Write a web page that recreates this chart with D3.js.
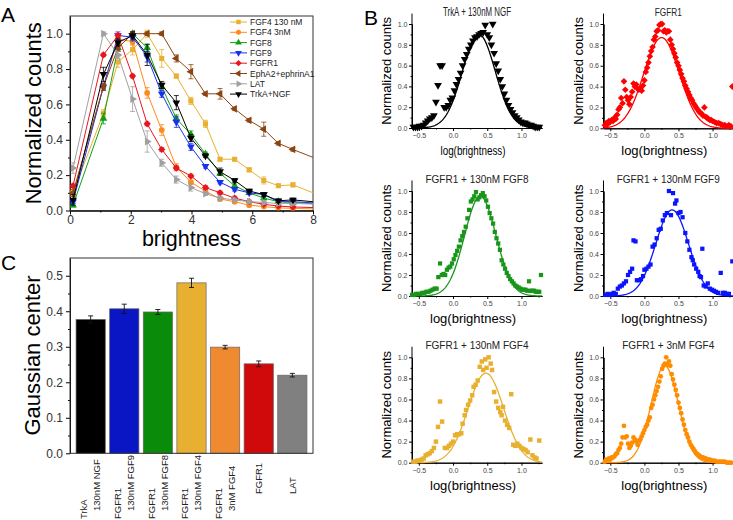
<!DOCTYPE html>
<html>
<head>
<meta charset="utf-8">
<script src="https://cdn.jsdelivr.net/npm/d3@7"></script>
<style>
  body { margin: 0; background: #fff; }
  text { font-family: "Liberation Sans", Arial, sans-serif; }
</style>
</head>
<body>
<svg id="fig" width="733" height="520"></svg>
<script>
// ---------------- data: panel A (brightness histograms) ----------------
const brightness = [0.1, 1.1, 1.58, 2.06, 2.54, 3.02, 3.5, 3.98, 4.46, 4.94, 5.42, 5.9, 6.38, 6.86, 7.34, 8.3];
const fgf4High = [0.1, 0.55, 0.84, 0.91, 1.0, 0.86, 0.76, 0.62, 0.49, 0.29, 0.29, 0.23, 0.17, 0.14, 0.145, 0.08];
const fgf4Low  = [0.1, 0.7, 0.97, 0.955, 0.665, 0.455, 0.245, 0.16, 0.11, 0.065, 0.05, 0.03, 0.022, 0.015, 0.012, 0.008];
const fgf8     = [0.03, 0.52, 0.92, 1.0, 0.92, 0.7, 0.52, 0.43, 0.32, 0.21, 0.14, 0.1, 0.07, 0.05, 0.045, 0.035];
const fgf9     = [0.05, 0.7, 0.99, 0.98, 0.87, 0.66, 0.5, 0.36, 0.25, 0.16, 0.12, 0.1, 0.09, 0.05, 0.05, 0.04];
const fgfr1    = [0.14, 0.88, 0.99, 0.76, 0.49, 0.345, 0.24, 0.195, 0.13, 0.1, 0.07, 0.05, 0.035, 0.025, 0.02, 0.015];
const epha2    = [0.1, 0.7, 0.92, 1.0, 1.0, 1.0, 0.86, 0.785, 0.66, 0.66, 0.575, 0.51, 0.46, 0.38, 0.345, 0.28];
const lat      = [0.24, 1.0, 0.88, 0.63, 0.39, 0.27, 0.175, 0.13, 0.095, 0.07, 0.06, 0.05, 0.045, 0.04, 0.04, 0.035];
const trka     = [0.06, 0.77, 0.95, 0.99, 0.88, 0.71, 0.61, 0.41, 0.31, 0.22, 0.17, 0.11, 0.09, 0.055, 0.06, 0.045];

const fgf4HighErr = [0.02, 0.02, 0.03, 0.03, 0.02, 0.05, 0.01, 0.02, 0.02, 0.01, 0.01, 0.01, 0.02, 0.01, 0.01, 0];
const fgf4LowErr  = [0.02, 0.02, 0.02, 0.02, 0.03, 0.03, 0.02, 0.01, 0.01, 0.01, 0.01, 0.005, 0.005, 0.005, 0.005, 0];
const fgf8Err     = [0.01, 0.03, 0.02, 0.01, 0.02, 0.02, 0.02, 0.02, 0.01, 0.01, 0.01, 0.01, 0.01, 0.01, 0.01, 0];
const fgf9Err     = [0.01, 0.02, 0.02, 0.02, 0.03, 0.02, 0.03, 0.02, 0.01, 0.01, 0.01, 0.01, 0.01, 0.01, 0.01, 0];
const fgfr1Err    = [0.01, 0.01, 0.01, 0.01, 0.01, 0.01, 0.01, 0.01, 0.01, 0.01, 0.01, 0.005, 0.005, 0.005, 0.005, 0];
const epha2Err    = [0.02, 0.02, 0.02, 0.01, 0.01, 0.01, 0.02, 0.04, 0.01, 0.03, 0.01, 0.01, 0.04, 0.01, 0.01, 0];
const latErr      = [0.03, 0.01, 0.02, 0.07, 0.06, 0.02, 0.02, 0.02, 0.01, 0.01, 0.01, 0.01, 0.01, 0.01, 0.01, 0];
const trkaErr     = [0.03, 0.04, 0.02, 0.02, 0.06, 0.02, 0.04, 0.02, 0.01, 0.02, 0.01, 0.01, 0.01, 0.01, 0.01, 0];

// ---------------- data: panel C (Gaussian centers) ----------------
const samples = ["TrkA 130nM NGF", "FGFR1 130nM FGF9", "FGFR1 130nM FGF8", "FGFR1 130nM FGF4", "FGFR1 3nM FGF4", "FGFR1", "LAT"];
const sampleLines = [["TrkA", "130nM NGF"], ["FGFR1", "130nM FGF9"], ["FGFR1", "130nM FGF8"], ["FGFR1", "130nM FGF4"], ["FGFR1", "3nM FGF4"], ["FGFR1"], ["LAT"]];
const gaussCenter = [0.377, 0.407, 0.398, 0.48, 0.299, 0.252, 0.22];
const gaussCenterErr = [0.01, 0.013, 0.007, 0.013, 0.005, 0.008, 0.005];
const barColors = ["#000000", "#0A16C4", "#0A8C0A", "#E8B030", "#F08A30", "#D00A0A", "#808080"];

// ---------------- data: panel B (log-brightness histograms) ----------------
const trkaPts = [[-0.58,0.01],[-0.55,0.01],[-0.52,0.01],[-0.49,0.02],[-0.46,0.02],[-0.43,0.03],[-0.40,0.05],[-0.37,0.07],[-0.34,0.09],[-0.31,0.1],[-0.28,0.12],[-0.25,0.25],[-0.22,0.41],[-0.19,0.6],[-0.16,0.6],[-0.13,0.2],[-0.10,0.2],[-0.07,0.22],[-0.04,0.27],[-0.01,0.29],[0.02,0.36],[0.05,0.42],[0.08,0.47],[0.11,0.53],[0.14,0.6],[0.17,0.66],[0.2,0.71],[0.23,0.76],[0.26,0.8],[0.29,0.84],[0.32,0.87],[0.35,0.88],[0.38,0.9],[0.41,0.91],[0.44,0.92],[0.47,0.99],[0.5,0.9],[0.53,0.87],[0.58,1.0],[0.56,0.8],[0.6,0.72],[0.63,0.62],[0.66,0.55],[0.69,0.47],[0.72,0.4],[0.75,0.33],[0.78,0.27],[0.81,0.22],[0.84,0.18],[0.87,0.15],[0.9,0.12],[0.93,0.1],[0.96,0.08],[0.99,0.06],[1.02,0.05],[1.05,0.05],[1.08,0.04],[1.11,0.03],[1.14,0.03],[1.17,0.02],[1.2,0.01],[1.23,0.01],[1.26,0.01]];
const fgfr1Pts = [[-0.58,0.03],[-0.56,0.05],[-0.54,0.04],[-0.52,0.07],[-0.5,0.06],[-0.48,0.08],[-0.46,0.07],[-0.44,0.1],[-0.42,0.09],[-0.4,0.13],[-0.38,0.18],[-0.36,0.2],[-0.34,0.29],[-0.32,0.24],[-0.3,0.45],[-0.28,0.37],[-0.26,0.3],[-0.24,0.27],[-0.22,0.23],[-0.2,0.3],[-0.18,0.35],[-0.16,0.43],[-0.14,0.4],[-0.12,0.42],[-0.1,0.38],[-0.08,0.37],[-0.06,0.38],[-0.04,0.36],[-0.02,0.41],[0.0,0.46],[0.02,0.54],[0.04,0.58],[0.06,0.63],[0.08,0.69],[0.1,0.74],[0.12,0.78],[0.14,0.85],[0.16,0.88],[0.18,0.93],[0.2,0.94],[0.22,0.99],[0.24,1.0],[0.26,1.0],[0.28,0.93],[0.3,0.94],[0.32,0.92],[0.34,0.93],[0.36,0.93],[0.38,0.85],[0.4,0.8],[0.42,0.76],[0.44,0.72],[0.46,0.68],[0.48,0.63],[0.5,0.6],[0.52,0.56],[0.54,0.52],[0.56,0.48],[0.58,0.45],[0.6,0.41],[0.62,0.38],[0.64,0.35],[0.66,0.32],[0.68,0.29],[0.7,0.27],[0.72,0.24],[0.74,0.22],[0.76,0.2],[0.78,0.18],[0.8,0.16],[0.82,0.15],[0.84,0.14],[0.86,0.12],[0.88,0.2],[0.9,0.11],[0.92,0.1],[0.94,0.09],[0.96,0.08],[0.98,0.08],[1.0,0.07],[1.03,0.06],[1.06,0.05],[1.09,0.05],[1.12,0.04],[1.15,0.03],[1.18,0.03],[1.21,0.02],[1.24,0.03],[1.27,0.02],[1.29,0.4]];
const fgf8Pts = [[-0.6,0.01],[-0.57,0.01],[-0.54,0.02],[-0.51,0.02],[-0.48,0.02],[-0.45,0.03],[-0.42,0.03],[-0.39,0.04],[-0.36,0.04],[-0.33,0.05],[-0.3,0.06],[-0.27,0.07],[-0.24,0.07],[-0.215,0.18],[-0.19,0.31],[-0.165,0.2],[-0.14,0.21],[-0.115,0.2],[-0.09,0.25],[-0.065,0.27],[-0.04,0.28],[-0.015,0.31],[0.01,0.35],[0.035,0.39],[0.06,0.43],[0.085,0.47],[0.11,0.53],[0.135,0.57],[0.16,0.61],[0.185,0.66],[0.21,0.74],[0.235,0.82],[0.26,0.9],[0.285,0.92],[0.31,0.95],[0.335,0.99],[0.36,0.92],[0.385,0.94],[0.41,0.96],[0.435,0.98],[0.46,0.95],[0.485,0.91],[0.51,0.85],[0.535,0.79],[0.56,0.74],[0.585,0.69],[0.61,0.61],[0.635,0.55],[0.66,0.5],[0.685,0.44],[0.71,0.34],[0.735,0.3],[0.76,0.26],[0.785,0.22],[0.81,0.19],[0.835,0.16],[0.86,0.14],[0.885,0.12],[0.91,0.1],[0.935,0.09],[0.96,0.08],[0.985,0.07],[1.01,0.06],[1.035,0.06],[1.06,0.06],[1.085,0.05],[1.11,0.14],[1.135,0.05],[1.16,0.05],[1.185,0.05],[1.21,0.04],[1.235,0.04],[1.26,0.04],[1.285,0.2]];
const fgf9Pts = [[-0.57,0.01],[-0.54,0.02],[-0.51,0.01],[-0.48,0.02],[-0.45,0.03],[-0.42,0.02],[-0.39,0.07],[-0.36,0.09],[-0.33,0.1],[-0.3,0.12],[-0.27,0.14],[-0.24,0.2],[-0.21,0.23],[-0.18,0.26],[-0.16,0.53],[-0.13,0.52],[-0.11,0.15],[-0.08,0.15],[-0.05,0.16],[-0.02,0.19],[0.0,0.25],[0.03,0.26],[0.06,0.28],[0.09,0.3],[0.12,0.47],[0.15,0.49],[0.18,0.55],[0.21,0.63],[0.24,0.64],[0.27,0.72],[0.3,0.77],[0.33,0.79],[0.36,1.0],[0.39,0.77],[0.42,0.98],[0.45,0.88],[0.47,0.91],[0.5,0.79],[0.53,0.8],[0.56,0.75],[0.6,0.6],[0.63,0.52],[0.66,0.44],[0.69,0.37],[0.71,0.34],[0.73,0.3],[0.76,0.26],[0.79,0.23],[0.81,0.19],[0.83,0.18],[0.85,0.45],[0.87,0.1],[0.9,0.09],[0.93,0.12],[0.96,0.07],[0.99,0.06],[1.02,0.05],[1.05,0.04],[1.08,0.03],[1.12,0.22],[1.15,0.03],[1.18,0.03],[1.21,0.02],[1.24,0.02],[1.29,0.33]];
const fgf4HighPts = [[-0.58,0.01],[-0.55,0.01],[-0.52,0.02],[-0.49,0.02],[-0.46,0.03],[-0.43,0.04],[-0.4,0.07],[-0.37,0.08],[-0.34,0.09],[-0.31,0.11],[-0.28,0.14],[-0.25,0.2],[-0.22,0.34],[-0.19,0.58],[-0.16,0.39],[-0.12,0.14],[-0.09,0.14],[-0.06,0.16],[-0.03,0.18],[0.0,0.2],[0.03,0.26],[0.06,0.27],[0.09,0.27],[0.12,0.28],[0.14,0.37],[0.17,0.45],[0.19,0.5],[0.22,0.55],[0.25,0.59],[0.28,0.64],[0.3,0.72],[0.33,0.74],[0.36,0.78],[0.39,0.91],[0.42,0.96],[0.44,0.88],[0.47,0.98],[0.49,0.9],[0.52,1.0],[0.55,0.94],[0.57,0.88],[0.6,0.67],[0.63,0.58],[0.66,0.52],[0.69,0.48],[0.71,0.45],[0.73,0.53],[0.76,0.4],[0.79,0.36],[0.82,0.33],[0.85,0.65],[0.88,0.17],[0.91,0.16],[0.94,0.18],[0.97,0.16],[1.0,0.14],[1.03,0.13],[1.06,0.12],[1.09,0.1],[1.13,0.22],[1.16,0.07],[1.19,0.05],[1.22,0.04],[1.26,0.21]];
const fgf4LowPts = [[-0.58,0.01],[-0.56,0.03],[-0.54,0.02],[-0.52,0.04],[-0.5,0.03],[-0.48,0.05],[-0.46,0.05],[-0.44,0.06],[-0.42,0.08],[-0.4,0.09],[-0.38,0.12],[-0.36,0.14],[-0.34,0.18],[-0.32,0.24],[-0.3,0.35],[-0.28,0.24],[-0.26,0.25],[-0.24,0.18],[-0.22,0.14],[-0.2,0.16],[-0.18,0.19],[-0.16,0.24],[-0.14,0.22],[-0.12,0.2],[-0.1,0.17],[-0.08,0.21],[-0.06,0.22],[-0.04,0.25],[-0.02,0.28],[0.0,0.31],[0.02,0.34],[0.04,0.36],[0.06,0.4],[0.08,0.43],[0.1,0.52],[0.12,0.55],[0.14,0.6],[0.16,0.64],[0.18,0.68],[0.2,0.72],[0.22,0.77],[0.24,0.82],[0.26,0.89],[0.28,0.92],[0.3,0.94],[0.32,1.0],[0.34,0.93],[0.36,0.96],[0.38,0.92],[0.4,0.84],[0.42,0.79],[0.44,0.74],[0.46,0.69],[0.48,0.64],[0.5,0.57],[0.52,0.52],[0.54,0.47],[0.56,0.41],[0.58,0.36],[0.6,0.31],[0.62,0.27],[0.64,0.24],[0.66,0.2],[0.68,0.17],[0.7,0.15],[0.72,0.13],[0.74,0.11],[0.76,0.09],[0.78,0.08],[0.8,0.07],[0.82,0.06],[0.84,0.05],[0.86,0.05],[0.88,0.04],[0.9,0.04],[0.92,0.03],[0.94,0.03],[0.96,0.03],[0.98,0.02],[1.0,0.02],[1.03,0.02],[1.06,0.01],[1.09,0.01],[1.12,0.01],[1.15,0.01],[1.18,0.01],[1.21,0.0],[1.24,0.0],[1.27,0.0]];

const svg = d3.select("#fig");

// marker shapes used in the figure
function marker(shape, size) {
  const sym = {
    square: d3.symbolSquare, circle: d3.symbolCircle, diamond: d3.symbolSquare,
    triUp: d3.symbolTriangle, triDown: d3.symbolTriangle,
    triLeft: d3.symbolTriangle, triRight: d3.symbolTriangle
  }[shape];
  const rot = { diamond: 45, triDown: 180, triLeft: -90, triRight: 90 }[shape] || 0;
  return { path: d3.symbol().type(sym).size(size)(), rot: rot };
}

function panelLetter(t, x, y) {
  svg.append("text").attr("x", x).attr("y", y).attr("font-size", 21).text(t);
}

// ====================== PANEL A ======================
panelLetter("A", 1, 22);

const xA = d3.scaleLinear().domain([0, 8]).range([70, 313]);
const yA = d3.scaleLinear().domain([0, 1.1]).range([210.5, 16]);

const seriesA = [
  { name: "FGF4 130 nM", color: "#E8B030", shape: "square", y: fgf4High, err: fgf4HighErr },
  { name: "FGF4 3nM", color: "#FF8A1C", shape: "circle", y: fgf4Low, err: fgf4LowErr },
  { name: "FGF8", color: "#12A012", shape: "triUp", y: fgf8, err: fgf8Err },
  { name: "FGF9", color: "#1A30F0", shape: "triDown", y: fgf9, err: fgf9Err },
  { name: "FGFR1", color: "#E81420", shape: "diamond", y: fgfr1, err: fgfr1Err },
  { name: "EphA2+ephrinA1", color: "#8B4513", shape: "triLeft", y: epha2, err: epha2Err },
  { name: "LAT", color: "#A0A0A0", shape: "triRight", y: lat, err: latErr },
  { name: "TrkA+NGF", color: "#000000", shape: "triDown", y: trka, err: trkaErr }
];

svg.append("clipPath").attr("id", "clipA").append("rect")
  .attr("x", 70).attr("y", 16).attr("width", 243).attr("height", 194.5);

const gA = svg.append("g");

// axes
const axA = gA.append("g").attr("transform", "translate(0,210.5)")
  .call(d3.axisBottom(xA).tickValues([0, 2, 4, 6, 8]).tickFormat(d3.format("d")).tickSize(4).tickPadding(1).tickSizeOuter(0));
gA.append("g").attr("transform", "translate(0,210.5)")
  .call(d3.axisBottom(xA).tickValues([1, 3, 5, 7]).tickFormat("").tickSize(2).tickSizeOuter(0));
const ayA = gA.append("g").attr("transform", "translate(70,0)")
  .call(d3.axisLeft(yA).tickValues([0, 0.2, 0.4, 0.6, 0.8, 1.0]).tickFormat(d3.format(".1f")).tickSize(4).tickSizeOuter(0));
gA.append("g").attr("transform", "translate(70,0)")
  .call(d3.axisLeft(yA).tickValues([0.1, 0.3, 0.5, 0.7, 0.9]).tickFormat("").tickSize(2).tickSizeOuter(0));
[axA, ayA].forEach(a => a.selectAll("text").attr("font-size", 12).attr("fill", "#333")
  .attr("font-family", "Liberation Sans, Arial, sans-serif"));

gA.append("rect").attr("x", 70).attr("y", 16).attr("width", 243).attr("height", 194.5)
  .attr("fill", "none").attr("stroke", "#333").attr("stroke-width", 1);

// series
const plotA = gA.append("g").attr("clip-path", "url(#clipA)");
seriesA.forEach(s => {
  const pts = brightness.map((x, i) => ({ x: x, y: s.y[i], e: s.err[i] }));
  const g = plotA.append("g");
  g.append("path").datum(pts)
    .attr("fill", "none").attr("stroke", s.color).attr("stroke-width", 1)
    .attr("d", d3.line().x(d => xA(d.x)).y(d => yA(d.y)));
  const eb = g.selectAll(".eb").data(pts.filter(d => d.e > 0)).enter().append("g")
    .attr("stroke", s.color).attr("stroke-width", 0.8);
  eb.append("line").attr("x1", d => xA(d.x)).attr("x2", d => xA(d.x))
    .attr("y1", d => yA(d.y - d.e)).attr("y2", d => yA(d.y + d.e));
  eb.append("line").attr("x1", d => xA(d.x) - 2.5).attr("x2", d => xA(d.x) + 2.5)
    .attr("y1", d => yA(d.y - d.e)).attr("y2", d => yA(d.y - d.e));
  eb.append("line").attr("x1", d => xA(d.x) - 2.5).attr("x2", d => xA(d.x) + 2.5)
    .attr("y1", d => yA(d.y + d.e)).attr("y2", d => yA(d.y + d.e));
  const m = marker(s.shape, 26);
  g.selectAll(".mk").data(pts).enter().append("path")
    .attr("d", m.path).attr("fill", s.color)
    .attr("transform", d => `translate(${xA(d.x)},${yA(d.y)}) rotate(${m.rot})`);
});

// legend
const legA = gA.append("g");
seriesA.forEach((s, i) => {
  const y = 22 + i * 10.3;
  legA.append("line").attr("x1", 230).attr("x2", 247).attr("y1", y).attr("y2", y)
    .attr("stroke", s.color).attr("stroke-width", 1);
  const m = marker(s.shape, 20);
  legA.append("path").attr("d", m.path).attr("fill", s.color)
    .attr("transform", `translate(238.5,${y}) rotate(${m.rot})`);
  legA.append("text").attr("x", 250).attr("y", y + 3).attr("font-size", 8.5)
    .attr("fill", "#222").text(s.name);
});

gA.append("text").attr("x", (70 + 313) / 2).attr("y", 246).attr("text-anchor", "middle")
  .attr("font-size", 21.5).text("brightness");
gA.append("text").attr("transform", `translate(41,${(16 + 210.5) / 2}) rotate(-90)`)
  .attr("text-anchor", "middle").attr("font-size", 22).text("Normalized counts");

// ====================== PANEL C ======================
panelLetter("C", 1, 270);

const xC = d3.scaleBand().domain(samples).range([70, 313]).paddingInner(0.13).paddingOuter(0.18);
const yC = d3.scaleLinear().domain([0, 0.55]).range([453.3, 258]);
const gC = svg.append("g");

gC.selectAll(".bar").data(samples).enter().append("rect")
  .attr("x", d => xC(d)).attr("width", xC.bandwidth())
  .attr("y", (d, i) => yC(gaussCenter[i])).attr("height", (d, i) => yC(0) - yC(gaussCenter[i]))
  .attr("fill", (d, i) => barColors[i]).attr("stroke", "#666").attr("stroke-width", 0.7);

const ebC = gC.selectAll(".ebc").data(samples).enter().append("g")
  .attr("stroke", "#111").attr("stroke-width", 0.9);
ebC.append("line").attr("x1", d => xC(d) + xC.bandwidth() / 2).attr("x2", d => xC(d) + xC.bandwidth() / 2)
  .attr("y1", (d, i) => yC(gaussCenter[i] - gaussCenterErr[i])).attr("y2", (d, i) => yC(gaussCenter[i] + gaussCenterErr[i]));
[-1, 1].forEach(sg => {
  ebC.append("line").attr("x1", d => xC(d) + xC.bandwidth() / 2 - 2.5).attr("x2", d => xC(d) + xC.bandwidth() / 2 + 2.5)
    .attr("y1", (d, i) => yC(gaussCenter[i] + sg * gaussCenterErr[i]))
    .attr("y2", (d, i) => yC(gaussCenter[i] + sg * gaussCenterErr[i]));
});

const ayC = gC.append("g").attr("transform", "translate(70,0)")
  .call(d3.axisLeft(yC).tickValues([0, 0.1, 0.2, 0.3, 0.4, 0.5]).tickFormat(d3.format(".1f")).tickSize(4).tickSizeOuter(0));
gC.append("g").attr("transform", "translate(70,0)")
  .call(d3.axisLeft(yC).tickValues([0.05, 0.15, 0.25, 0.35, 0.45]).tickFormat("").tickSize(2).tickSizeOuter(0));
ayC.selectAll("text").attr("font-size", 12).attr("fill", "#333")
  .attr("font-family", "Liberation Sans, Arial, sans-serif");
gC.append("rect").attr("x", 70).attr("y", 258).attr("width", 243).attr("height", 195.3)
  .attr("fill", "none").attr("stroke", "#333").attr("stroke-width", 1);

// rotated category labels
samples.forEach((s, i) => {
  const cx = xC(s) + xC.bandwidth() / 2;
  const lines = sampleLines[i];
  lines.forEach((ln, j) => {
    let off = 0, y0 = 494;
    if (lines.length === 2) { off = j === 0 ? -6.5 : 6.5; y0 = j === 0 ? 519 : 511; }
    gC.append("text").attr("transform", `translate(${cx + off},${y0}) rotate(-90)`)
      .attr("dy", "0.35em").attr("font-size", 9.5).attr("fill", "#222").text(ln);
  });
});

gC.append("text").attr("transform", `translate(40,${(258 + 453) / 2}) rotate(-90)`)
  .attr("text-anchor", "middle").attr("font-size", 22).text("Gaussian center");

// ====================== PANEL B ======================
panelLetter("B", 364, 25);

const panelsB = [
  { title: "TrkA + 130nM NGF", color: "#000000", shape: "triDown", size: 26, pts: trkaPts, c: 0, amp: 0.9, sigma: 0.24,
    x0: 412, x1: 542, yb: 128, yt: 24, titleSize: 12, titleLen: 68, labelLen: 65 },
  { title: "FGFR1", color: "#FF0000", shape: "diamond", size: 22, pts: fgfr1Pts, c: 5, amp: 0.87, sigma: 0.26,
    x0: 603.5, x1: 733, yb: 128.3, yt: 24, titleSize: 11, titleLen: 27 },
  { title: "FGFR1 + 130nM FGF8", color: "#17961A", shape: "square", size: 18, pts: fgf8Pts, c: 2, amp: 0.95, sigma: 0.23,
    x0: 412, x1: 542, yb: 296, yt: 191 },
  { title: "FGFR1 + 130nM FGF9", color: "#0A14FF", shape: "square", size: 18, pts: fgf9Pts, c: 1, amp: 0.82, sigma: 0.24,
    x0: 603.5, x1: 733, yb: 296, yt: 191 },
  { title: "FGFR1 + 130nM FGF4", color: "#E8B030", shape: "square", size: 20, pts: fgf4HighPts, c: 3, amp: 0.85, sigma: 0.26,
    x0: 412, x1: 542, yb: 462.7, yt: 357.3 },
  { title: "FGFR1 + 3nM FGF4", color: "#FF8C00", shape: "circle", size: 18, pts: fgf4LowPts, c: 4, amp: 0.92, sigma: 0.2,
    x0: 603.5, x1: 733, yb: 462.7, yt: 357.3 }
];

panelsB.forEach(p => {
  const x = d3.scaleLinear().domain([-0.6, 1.3]).range([p.x0, p.x1]);
  const y = d3.scaleLinear().domain([0, 1]).range([p.yb, p.yt]);
  const g = svg.append("g");
  const top = y(1.1);

  const ax = g.append("g").attr("transform", `translate(0,${p.yb})`)
    .call(d3.axisBottom(x).tickValues([-0.5, 0, 0.5, 1.0]).tickFormat(d3.format(".1f")).tickSize(3).tickSizeOuter(0));
  g.append("g").attr("transform", `translate(0,${p.yb})`)
    .call(d3.axisBottom(x).tickValues([-0.25, 0.25, 0.75, 1.25]).tickFormat("").tickSize(1.5).tickSizeOuter(0));
  const ay = g.append("g").attr("transform", `translate(${p.x0},0)`)
    .call(d3.axisLeft(y).tickValues([0, 0.2, 0.4, 0.6, 0.8, 1.0]).tickFormat(d3.format(".1f")).tickSize(3).tickSizeOuter(0));
  g.append("g").attr("transform", `translate(${p.x0},0)`)
    .call(d3.axisLeft(y).tickValues([0.1, 0.3, 0.5, 0.7, 0.9]).tickFormat("").tickSize(1.5).tickSizeOuter(0));
  // extend left axis line to top of range
  g.append("line").attr("x1", p.x0).attr("x2", p.x0).attr("y1", top).attr("y2", p.yb).attr("stroke", "#000");
  [ax, ay].forEach(a => a.selectAll("text").attr("font-size", 7).attr("fill", "#444")
    .attr("font-family", "Liberation Sans, Arial, sans-serif"));
  ay.selectAll("text").attr("x", -4.5);
  ax.selectAll("text").attr("y", 5);

  // scatter
  const m = marker(p.shape, p.size);
  g.selectAll(".pt").data(p.pts).enter().append("path")
    .attr("d", m.path).attr("fill", p.color)
    .attr("transform", d => `translate(${x(d[0])},${y(d[1])}) rotate(${m.rot})`);

  // Gaussian fit line (center from panel C)
  const mu = gaussCenter[p.c];
  const fit = d3.range(-0.6, 1.301, 0.01).map(v => [v, p.amp * Math.exp(-((v - mu) ** 2) / (2 * p.sigma * p.sigma))]);
  g.append("path").datum(fit).attr("fill", "none").attr("stroke", p.color).attr("stroke-width", 1.3)
    .attr("d", d3.line().x(d => x(d[0])).y(d => y(d[1])));

  // texts
  const cx = (p.x0 + p.x1) / 2;
  const tt = g.append("text").attr("x", cx).attr("y", top + 2.5).attr("text-anchor", "middle")
    .attr("font-size", p.titleSize || 10).attr("fill", "#222").text(p.title);
  if (p.titleLen) tt.attr("textLength", p.titleLen).attr("lengthAdjust", "spacingAndGlyphs");
  const xl = g.append("text").attr("x", cx - 4).attr("y", p.yb + 27).attr("text-anchor", "middle")
    .attr("font-size", 13).text("log(brightness)");
  if (p.labelLen) xl.attr("textLength", p.labelLen).attr("lengthAdjust", "spacingAndGlyphs");
  g.append("text").attr("transform", `translate(${p.x0 - 21},${(top + p.yb) / 2}) rotate(-90)`)
    .attr("text-anchor", "middle").attr("font-size", 13).text("Normalized counts");
});
</script>
</body>
</html>
